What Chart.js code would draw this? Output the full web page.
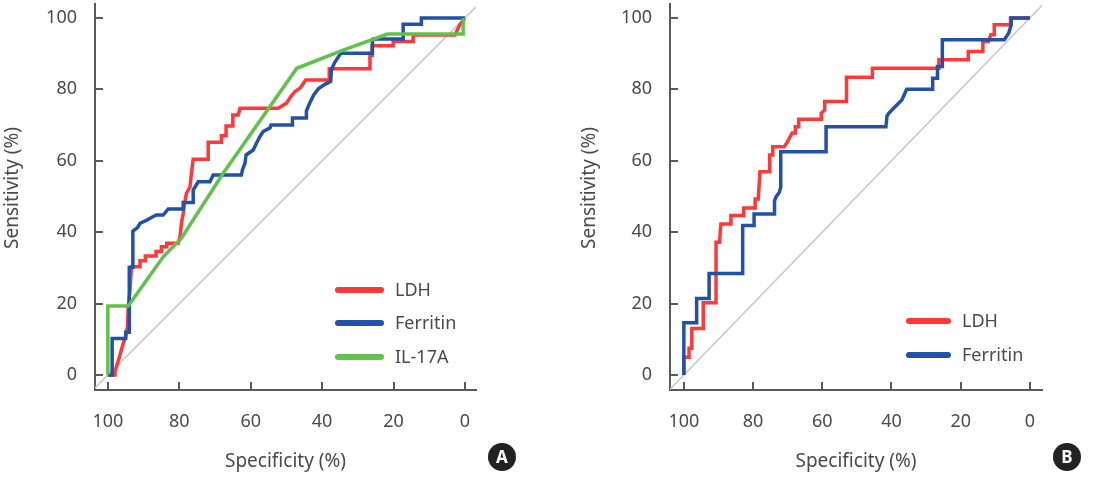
<!DOCTYPE html>
<html>
<head>
<meta charset="utf-8">
<script src="https://cdn.jsdelivr.net/npm/chart.js@4.4.1/dist/chart.umd.min.js"></script>
<style>
  html, body { margin: 0; padding: 0; background: #fff; }
  #wrap { position: relative; width: 1098px; height: 481px; }
  .panel { position: absolute; top: 0; width: 549px; height: 481px; }
  #panelA { left: 0; }
  #panelB { left: 549px; }
</style>
</head>
<body>
<div id="wrap">
  <div class="panel" id="panelA"><canvas id="chartA"></canvas></div>
  <div class="panel" id="panelB"><canvas id="chartB"></canvas></div>
</div>
<script>
// eixos: 0..100 nos dois, especificidade invertida
const tickValues = [0, 20, 40, 60, 80, 100];
const chanceSpec = [110, -10];
const chanceSens = [-10, 110];

// painel A - LDH
const ldhSpecA = [100, 98.0, 98.0, 96.6, 95.7, 95.0, 94.5, 94.3, 93.8, 93.4, 91.0, 91.0, 89.5, 89.5, 86.5, 86.5, 85.0, 85.0, 83.5, 83.5, 80.3, 79.8, 79.4, 78.9, 78.5, 78.0, 77.0, 76.6, 76.1, 71.9, 71.9, 68.2, 68.2, 66.9, 66.9, 65.0, 65.0, 63.5, 63.0, 52.3, 50.0, 48.6, 47.6, 46.2, 44.6, 38.0, 38.0, 26.6, 26.6, 26.0, 26.0, 20.1, 20.1, 14.5, 14.5, 2.8, 1.5, 0];
const ldhSensA = [0, 0, 1.0, 5.6, 8.9, 10.8, 13.6, 19.1, 23.8, 30.3, 30.3, 32.0, 32.0, 33.3, 33.3, 34.6, 34.6, 35.9, 35.9, 36.9, 36.9, 38.7, 42.5, 45.3, 48.1, 50.9, 52.7, 56.5, 60.4, 60.4, 65.2, 65.2, 67.0, 67.0, 69.7, 69.7, 72.8, 72.8, 74.7, 74.7, 76.1, 78.2, 79.4, 80.3, 82.6, 82.6, 85.8, 85.8, 89.5, 89.5, 92.2, 92.2, 93.4, 93.4, 95.2, 95.2, 98.0, 100];
// painel A - Ferritin
const ferSpecA = [100, 98.8, 98.8, 95.0, 95.0, 94.0, 94.0, 93.0, 93.0, 91.7, 91.0, 89.2, 87.8, 86.4, 84.5, 83.1, 78.9, 78.9, 76.1, 76.1, 74.7, 71.4, 70.5, 62.6, 62.3, 61.6, 61.3, 59.3, 58.4, 57.4, 56.5, 54.6, 54.3, 48.3, 48.3, 44.4, 44.4, 43.3, 42.3, 41.0, 39.2, 37.6, 37.4, 36.5, 35.5, 34.8, 25.9, 25.9, 25.7, 17.3, 17.3, 12.2, 12.2, 0];
const ferSensA = [0, 0, 10.2, 10.2, 12.0, 12.0, 30.1, 30.1, 40.3, 41.3, 42.5, 43.3, 44.1, 44.8, 44.8, 46.5, 46.5, 48.3, 48.3, 51.8, 54.1, 54.1, 56.0, 56.0, 57.5, 59.3, 61.6, 63.0, 64.9, 66.8, 68.2, 69.2, 70.0, 70.0, 72.0, 72.0, 74.0, 76.5, 78.5, 80.2, 81.4, 82.2, 85.5, 87.5, 89.0, 90.1, 90.1, 93.5, 94.1, 94.1, 98.2, 98.2, 100, 100];
// painel A - IL-17A
const il17SpecA = [100, 100, 94.3, 84.5, 79.4, 67.7, 47.1, 34.1, 21.7, 0.5, 0.5];
const il17SensA = [0, 19.3, 19.3, 33.1, 38.3, 56.5, 85.9, 91.0, 95.5, 95.5, 100];

// painel B - LDH
const ldhSpecB = [100, 100, 98.5, 98.5, 97.7, 97.7, 94.4, 94.4, 90.7, 90.7, 89.7, 89.3, 86.4, 86.4, 82.7, 82.7, 79.4, 79.4, 78.5, 78.0, 75.2, 75.2, 74.3, 74.3, 71.0, 70.1, 68.7, 67.8, 67.8, 66.8, 66.8, 60.3, 60.3, 59.3, 59.3, 53.0, 53.0, 45.5, 45.5, 26.3, 26.3, 17.8, 17.8, 13.6, 13.6, 12.0, 11.3, 10.3, 10.3, 5.6, 5.6, 0];
const ldhSensB = [0, 5.0, 5.0, 7.5, 7.5, 13.0, 13.0, 20.2, 20.2, 37.2, 37.2, 42.3, 42.3, 44.7, 44.7, 46.8, 46.8, 49.3, 49.3, 56.9, 56.9, 61.6, 61.6, 63.9, 63.9, 65.3, 67.8, 67.8, 69.5, 69.5, 71.6, 71.6, 73.3, 74.2, 76.6, 76.6, 83.4, 83.4, 85.9, 85.9, 88.3, 88.3, 90.6, 90.6, 93.4, 93.4, 95.3, 95.3, 98.1, 98.1, 100, 100];
// painel B - Ferritin
const ferSpecB = [100, 100, 96.3, 96.3, 92.7, 92.7, 83.0, 83.0, 79.7, 79.7, 73.8, 73.8, 73.4, 72.4, 72.0, 72.0, 58.9, 58.9, 41.6, 41.3, 40.8, 38.9, 37.0, 35.6, 28.1, 28.1, 26.7, 26.7, 25.3, 25.3, 7.4, 6.1, 5.4, 5.4, 0];
const ferSensB = [0, 14.6, 14.6, 21.4, 21.4, 28.4, 28.4, 41.9, 41.9, 45.1, 45.1, 48.8, 49.8, 51.2, 52.6, 62.5, 62.5, 69.5, 69.5, 72.5, 73.3, 75.2, 77.0, 80.0, 80.0, 83.1, 83.1, 86.4, 86.4, 93.9, 93.9, 95.8, 98.1, 100, 100];

const RED = '#ff3838';
const BLUE = '#2151a8';
const GREEN = '#60c24b';
const DIAG = '#c9c9c9';
const AXIS = '#5a5a5a';
const TEXT = '#4a4a4a';
const FONT = "'Noto Sans', sans-serif";

const toPoints = (spec, sens) => spec.map((s, i) => ({ x: s, y: sens[i] }));

// ticks para dentro, titulo do eixo y, legenda e selo da letra
const rocDecor = {
  id: 'rocDecor',
  afterDraw(chart, args, opts) {
    const { ctx, chartArea, scales: { x, y } } = chart;
    ctx.save();
    ctx.strokeStyle = AXIS;
    ctx.lineWidth = 2;
    ctx.beginPath();
    x.ticks.forEach((t) => {
      const px = Math.round(x.getPixelForValue(t.value));
      ctx.moveTo(px, chartArea.bottom);
      ctx.lineTo(px, chartArea.bottom - 8);
    });
    y.ticks.forEach((t) => {
      const py = Math.round(y.getPixelForValue(t.value));
      ctx.moveTo(chartArea.left, py);
      ctx.lineTo(chartArea.left + 8, py);
    });
    ctx.stroke();

    ctx.save();
    ctx.translate(opts.yTitle.x, opts.yTitle.y);
    ctx.rotate(-Math.PI / 2);
    ctx.fillStyle = TEXT;
    ctx.font = `19px ${FONT}`;
    ctx.textAlign = 'center';
    ctx.textBaseline = 'middle';
    ctx.fillText(opts.yTitle.text, 0, 0);
    ctx.restore();

    const lg = opts.legend;
    chart.data.datasets.filter((d) => d.label).forEach((d, i) => {
      const ly = lg.rows[i];
      ctx.strokeStyle = d.borderColor;
      ctx.lineWidth = 6;
      ctx.lineCap = 'round';
      ctx.beginPath();
      ctx.moveTo(lg.x0, ly);
      ctx.lineTo(lg.x1, ly);
      ctx.stroke();
      ctx.fillStyle = TEXT;
      ctx.font = `18px ${FONT}`;
      ctx.textAlign = 'left';
      ctx.textBaseline = 'middle';
      ctx.fillText(d.label, lg.textX, ly + 1);
    });

    const b = opts.badge;
    ctx.fillStyle = '#222222';
    ctx.beginPath();
    ctx.arc(b.x, b.y, 14, 0, Math.PI * 2);
    ctx.fill();
    ctx.fillStyle = '#ffffff';
    ctx.font = `bold 17px ${FONT}`;
    ctx.textAlign = 'center';
    ctx.textBaseline = 'middle';
    ctx.fillText(b.text, b.x, b.y + 1);
    ctx.restore();
  },
};

function rocChart(canvasId, p) {
  const lines = p.series.map((s) => ({
    label: s.label,
    data: toPoints(s.spec, s.sens),
    borderColor: s.color,
    borderWidth: 3.5,
    borderJoinStyle: 'miter',
    pointRadius: 0,
    tension: 0,
    fill: false,
    order: s.order,
  }));
  lines.push({
    label: '',
    data: toPoints(chanceSpec, chanceSens),
    borderColor: DIAG,
    borderWidth: 1.6,
    pointRadius: 0,
    tension: 0,
    clip: 0,
    order: 9,
  });

  return new Chart(document.getElementById(canvasId), {
    type: 'line',
    data: { datasets: lines },
    options: {
      responsive: true,
      maintainAspectRatio: false,
      animation: false,
      events: [],
      layout: { padding: { left: 0, top: 4, right: p.padRight, bottom: 0 } },
      plugins: {
        legend: { display: false },
        tooltip: { enabled: false },
        rocDecor: { yTitle: p.yTitle, legend: p.legend, badge: p.badge },
      },
      scales: {
        x: {
          type: 'linear',
          reverse: true,
          min: p.xMin,
          max: p.xMax,
          afterBuildTicks: (s) => { s.ticks = tickValues.map((v) => ({ value: v })); },
          afterFit: (s) => { s.height = 91; s.paddingLeft = 0; s.paddingRight = 0; },
          grid: { display: true, drawOnChartArea: false, drawTicks: false },
          border: { display: true, color: AXIS, width: 2 },
          ticks: { color: TEXT, padding: 21, maxRotation: 0, font: { size: 18, family: FONT }, callback: (v) => String(v) },
          title: { display: true, text: 'Specificity (%)', color: TEXT, font: { size: 19, family: FONT }, padding: { top: 0, bottom: 8 } },
        },
        y: {
          type: 'linear',
          min: -4.2,
          max: 103.9,
          afterBuildTicks: (s) => { s.ticks = tickValues.map((v) => ({ value: v })); },
          afterFit: (s) => { s.width = p.yWidth; s.paddingTop = 0; s.paddingBottom = 0; },
          grid: { display: true, drawOnChartArea: false, drawTicks: false },
          border: { display: true, color: AXIS, width: 2 },
          ticks: { color: TEXT, padding: 18, font: { size: 18, family: FONT }, callback: (v) => String(v) },
          title: { display: false },
        },
      },
    },
    plugins: [rocDecor],
  });
}

rocChart('chartA', {
  series: [
    { label: 'LDH', spec: ldhSpecA, sens: ldhSensA, color: RED, order: 3 },
    { label: 'Ferritin', spec: ferSpecA, sens: ferSensA, color: BLUE, order: 2 },
    { label: 'IL-17A', spec: il17SpecA, sens: il17SensA, color: GREEN, order: 1 },
  ],
  xMin: -3.1, xMax: 103.6, yWidth: 95, padRight: 73,
  yTitle: { text: 'Sensitivity (%)', x: 13, y: 188 },
  legend: { x0: 338, x1: 381, textX: 395, rows: [290, 323, 357] },
  badge: { text: 'A', x: 502, y: 457 },
});

rocChart('chartB', {
  series: [
    { label: 'LDH', spec: ldhSpecB, sens: ldhSensB, color: RED, order: 3 },
    { label: 'Ferritin', spec: ferSpecB, sens: ferSensB, color: BLUE, order: 2 },
  ],
  xMin: -3.5, xMax: 104.0, yWidth: 121, padRight: 56,
  yTitle: { text: 'Sensitivity (%)', x: 41, y: 188 },
  legend: { x0: 360, x1: 399, textX: 413, rows: [321, 355] },
  badge: { text: 'B', x: 518, y: 457 },
});
</script>
</body>
</html>
